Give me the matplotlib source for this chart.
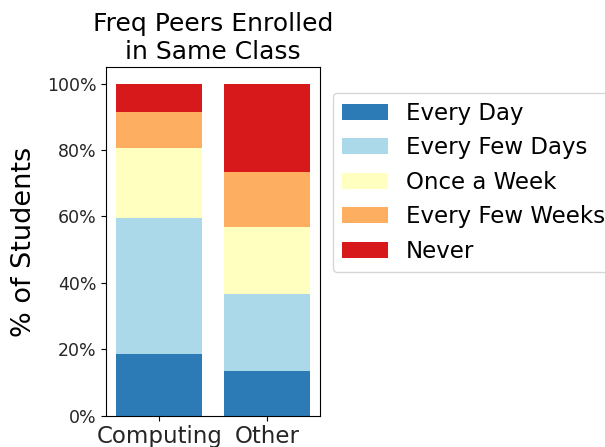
import numpy as np
import matplotlib
matplotlib.use("Agg")
import matplotlib.pyplot as plt
from matplotlib.ticker import PercentFormatter

# groups and answer categories
groups = ["Computing", "Other"]
answers = ["Every Day", "Every Few Days", "Once a Week", "Every Few Weeks", "Never"]

# share of students (%) per answer, one list per answer
every_day = [18.6, 13.5]
few_days = [41.0, 23.3]
once_week = [21.1, 20.1]
few_weeks = [10.9, 16.6]
never = [8.4, 26.5]

colors = ["#2c7bb6", "#abd9e9", "#ffffbf", "#fdae61", "#d7191c"]

series = [every_day, few_days, once_week, few_weeks, never]

fig = plt.figure(figsize=(6.05, 4.47), dpi=100)
ax = fig.add_axes([0.176, 0.070, 0.353, 0.780])

bottom = np.zeros(len(groups))
for label, vals, c in zip(answers, series, colors):
    ax.bar(groups, vals, bottom=bottom, color=c, label=label, width=0.8)
    bottom += np.array(vals)

ax.yaxis.set_major_formatter(PercentFormatter(decimals=0))
ax.set_yticks([0, 20, 40, 60, 80, 100])
ax.tick_params(axis="y", labelsize=12.5, labelcolor="#262626")
ax.tick_params(axis="x", labelsize=16.5, labelcolor="#262626")
ax.set_ylabel("% of Students", fontsize=19.5, labelpad=7)
ax.set_title("Freq Peers Enrolled\nin Same Class", fontsize=18, pad=6)

ax.legend(loc="upper left", bbox_to_anchor=(1.06, 0.926), borderaxespad=0,
          fontsize=16.5, labelspacing=0.5)

fig.savefig("out.png", dpi=100)
